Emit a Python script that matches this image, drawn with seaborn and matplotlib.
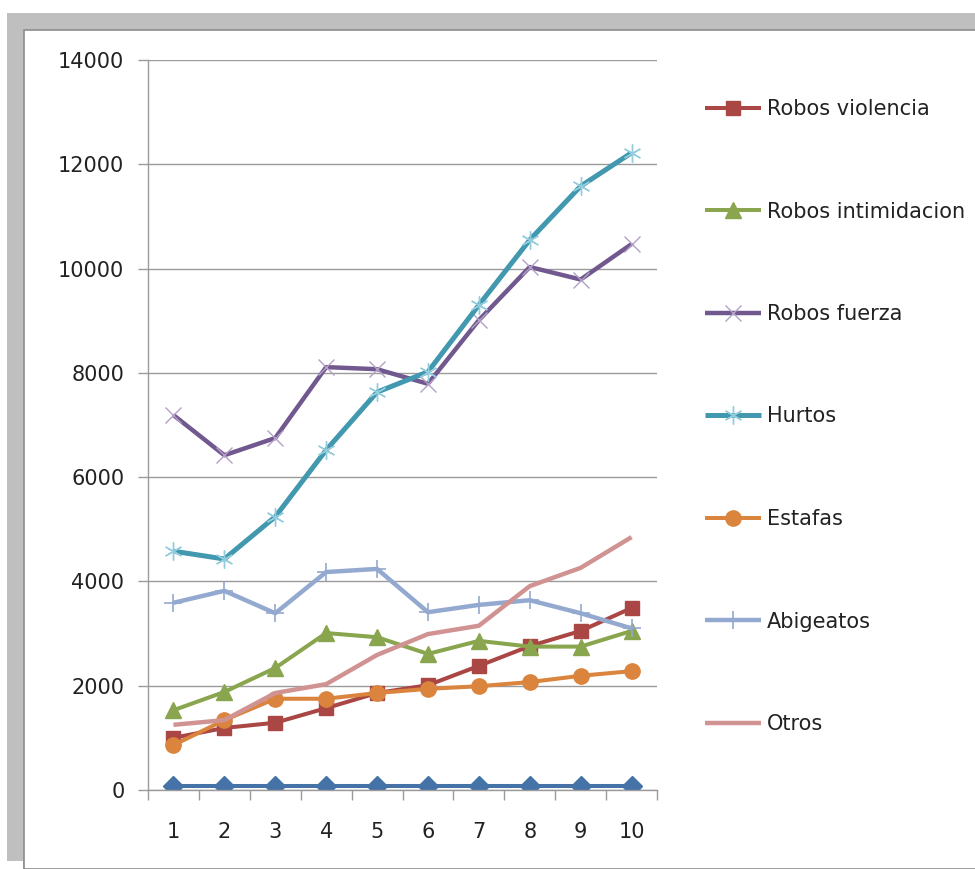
import numpy as np
import pandas as pd
import matplotlib
matplotlib.use("Agg")
import matplotlib.pyplot as plt
from matplotlib.patches import Rectangle
from matplotlib.ticker import FixedLocator
import seaborn as sns

periods = [1, 2, 3, 4, 5, 6, 7, 8, 9, 10]

serie_base = [80, 80, 80, 80, 80, 80, 80, 80, 80, 80]
robos_violencia = [1000, 1190, 1290, 1570, 1860, 2010, 2380, 2760, 3050, 3490]
robos_intimidacion = [1530, 1880, 2340, 3010, 2930, 2610, 2860, 2750, 2750, 3050]
robos_fuerza = [7190, 6420, 6750, 8110, 8070, 7790, 9010, 10030, 9790, 10470]
hurtos = [4580, 4430, 5240, 6520, 7630, 8020, 9300, 10550, 11580, 12220]
estafas = [860, 1340, 1750, 1750, 1860, 1940, 1990, 2070, 2190, 2280]
abigeatos = [3590, 3820, 3390, 4180, 4240, 3410, 3550, 3640, 3390, 3100]
otros = [1250, 1340, 1860, 2030, 2590, 2990, 3150, 3910, 4260, 4850]

sns.set_theme(style="white")
plt.rcParams['font.family'] = ['DejaVu Sans']

fig = plt.figure(figsize=(9.75, 8.69), dpi=100)
fig.patch.set_facecolor('white')

# marco gris estilo Excel
W, H = 975, 869
fig.patches.append(Rectangle((7 / W, 0), 975 / W, 1 - 13 / H, transform=fig.transFigure,
                             facecolor='#bfbfbf', edgecolor='none', zorder=-10))
fig.patches.append(Rectangle((24 / W, 0), 1, 1 - 30 / H, transform=fig.transFigure,
                             facecolor='white', edgecolor='#8c8c8c', linewidth=1.2, zorder=-9))
fig.patches.append(Rectangle((7 / W, 0), 16 / W, 8 / H, transform=fig.transFigure,
                             facecolor='white', edgecolor='none', zorder=-8))

ax = fig.add_axes([148 / W, 79 / H, 509 / W, 730 / H])
ax.set_facecolor('none')

series = [
    ("_base", serie_base, '#4572A7', 'D', 10, '#4572A7', 1, 2.9),
    ("Robos violencia", robos_violencia, '#AA4643', 's', 10.5, '#AA4643', 1, 2.9),
    ("Robos intimidacion", robos_intimidacion, '#89A54E', '^', 11, '#89A54E', 1, 2.9),
    ("Robos fuerza", robos_fuerza, '#71588F', 'x', 12, '#B3A2C7', 1.0, 3.2),
    ("Hurtos", hurtos, '#4198AF', (6, 2, 0), 13, '#93CDDD', 1.0, 3.6),
    ("Estafas", estafas, '#DB843D', 'o', 11, '#DB843D', 1, 2.9),
    ("Abigeatos", abigeatos, '#93A9CF', '+', 13, '#93A9CF', 1.2, 3.2),
    ("Otros", otros, '#D19392', None, 0, '#D19392', 1, 3.2),
]

for name, vals, col, mk, ms, mec, mew, lw in series:
    sns.lineplot(x=periods, y=vals, ax=ax, color=col, marker=mk, markersize=ms,
                 markeredgecolor=mec, markerfacecolor=col, markeredgewidth=mew,
                 linewidth=lw, label=name, solid_capstyle='butt')

if ax.get_legend() is not None:
    ax.get_legend().remove()

ax.set_xlim(0.5, 10.5)
ax.set_ylim(0, 14000)
ax.set_yticks(range(0, 14001, 2000))
ax.set_xticks(periods)
ax.xaxis.set_minor_locator(FixedLocator(np.arange(0.5, 10.6, 1)))
ax.grid(axis='y', color='#9a9a9a', linewidth=1.0)
ax.grid(axis='x', visible=False)
ax.set_axisbelow(True)

for s in ['top', 'right']:
    ax.spines[s].set_visible(False)
for s in ['left', 'bottom']:
    ax.spines[s].set_color('#9a9a9a')
    ax.spines[s].set_linewidth(1.0)

ax.tick_params(axis='x', which='major', length=0, pad=23, labelsize=15, labelcolor='#222222')
ax.tick_params(axis='x', which='minor', length=7, width=1, color='#9a9a9a', direction='out', bottom=True)
ax.tick_params(axis='y', which='major', length=7, width=1, color='#9a9a9a', direction='out',
               pad=10, labelsize=15, labelcolor='#222222', left=True)
ax.set_xlabel('')
ax.set_ylabel('')

handles, labels = ax.get_legend_handles_labels()
leg = fig.legend(handles, labels, loc='upper left', bbox_to_anchor=(705 / W, 1 - 99 / H),
                 frameon=False, fontsize=15, handlelength=2.7, handletextpad=0.29,
                 labelspacing=3.96, borderaxespad=0, borderpad=0)
for t in leg.get_texts():
    t.set_color('#222222')

fig.savefig('out.png', dpi=100)
